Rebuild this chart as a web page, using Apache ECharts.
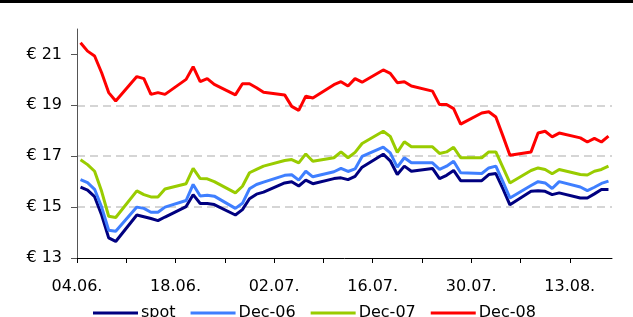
<!DOCTYPE html>
<html>
<head>
<meta charset="utf-8">
<title></title>
<script src="https://cdn.jsdelivr.net/npm/echarts@6/dist/echarts.min.js"></script>
<style>
  html, body { margin: 0; padding: 0; background: #fff; }
  #main { width: 633px; height: 317px; }
</style>
</head>
<body>
<div id="main"></div>
<script type="text/javascript">
    // trading days, 2006
    var dates = [
        '2006-06-04', '2006-06-05', '2006-06-06', '2006-06-07', '2006-06-08', '2006-06-09',
        '2006-06-12', '2006-06-13', '2006-06-14', '2006-06-15', '2006-06-16',
        '2006-06-19', '2006-06-20', '2006-06-21', '2006-06-22', '2006-06-23',
        '2006-06-26', '2006-06-27', '2006-06-28', '2006-06-29', '2006-06-30',
        '2006-07-03', '2006-07-04', '2006-07-05', '2006-07-06', '2006-07-07',
        '2006-07-10', '2006-07-11', '2006-07-12', '2006-07-13', '2006-07-14',
        '2006-07-17', '2006-07-18', '2006-07-19', '2006-07-20', '2006-07-21',
        '2006-07-24', '2006-07-25', '2006-07-26', '2006-07-27', '2006-07-28',
        '2006-07-31', '2006-08-01', '2006-08-02', '2006-08-03', '2006-08-04',
        '2006-08-07', '2006-08-08', '2006-08-09', '2006-08-10', '2006-08-11',
        '2006-08-14', '2006-08-15', '2006-08-16', '2006-08-17', '2006-08-18'
    ];
    var spot = [15.79, 15.67, 15.41, 14.69, 13.79, 13.65, 14.69, 14.62, 14.55, 14.47, 14.61,
        15.02, 15.49, 15.14, 15.14, 15.10, 14.69, 14.90, 15.33, 15.51, 15.59,
        15.95, 16.00, 15.83, 16.06, 15.92, 16.12, 16.15, 16.08, 16.21, 16.57,
        17.08, 16.82, 16.28, 16.61, 16.41, 16.52, 16.12, 16.25, 16.44, 16.04,
        16.04, 16.28, 16.32, 15.73, 15.09, 15.62, 15.64, 15.62, 15.49, 15.56,
        15.36, 15.36, 15.52, 15.69, 15.69];
    var dec06 = [16.08, 15.96, 15.70, 15.00, 14.09, 14.05, 15.00, 14.95, 14.80, 14.80, 15.00,
        15.26, 15.89, 15.44, 15.47, 15.43, 14.95, 15.15, 15.72, 15.89, 15.98,
        16.25, 16.27, 16.06, 16.41, 16.19, 16.39, 16.52, 16.40, 16.50, 16.99,
        17.36, 17.13, 16.57, 16.94, 16.74, 16.74, 16.48, 16.61, 16.80, 16.35,
        16.32, 16.54, 16.61, 16.00, 15.36, 15.85, 16.00, 15.95, 15.73, 16.00,
        15.79, 15.65, 15.78, 15.93, 16.02];
    var dec07 = [16.86, 16.67, 16.41, 15.62, 14.64, 14.59, 15.64, 15.49, 15.40, 15.40, 15.71,
        15.92, 16.52, 16.12, 16.11, 16.00, 15.56, 15.82, 16.35, 16.48, 16.61,
        16.83, 16.87, 16.74, 17.09, 16.80, 16.94, 17.17, 16.94, 17.15, 17.50,
        17.98, 17.78, 17.15, 17.57, 17.37, 17.37, 17.11, 17.17, 17.35, 16.94,
        16.94, 17.17, 17.17, 16.56, 15.95, 16.44, 16.54, 16.48, 16.31, 16.48,
        16.28, 16.26, 16.41, 16.48, 16.61];
    var dec08 = [21.46, 21.13, 20.94, 20.28, 19.50, 19.17, 20.13, 20.05, 19.43, 19.50, 19.43,
        20.02, 20.52, 19.93, 20.05, 19.82, 19.41, 19.85, 19.85, 19.69, 19.51,
        19.41, 18.96, 18.80, 19.36, 19.29, 19.81, 19.93, 19.76, 20.05, 19.91,
        20.39, 20.26, 19.89, 19.93, 19.76, 19.56, 19.03, 19.03, 18.87, 18.26,
        18.70, 18.75, 18.54, 17.80, 17.04, 17.17, 17.91, 17.98, 17.76, 17.91,
        17.72, 17.56, 17.70, 17.56, 17.79];
    var yTicks = [13, 15, 17, 19, 21];
    var startDay = '2006-06-04';

    var DAY = 86400000;
    var t0 = Date.parse(startDay);
    // a point sits in the middle of its day, like an Excel date axis
    function pairs(vals) {
        return vals.map(function (v, i) {
            return [(Date.parse(dates[i]) - t0) / DAY + 0.5, v];
        });
    }
    function dayLabel(v) {
        var d = new Date(t0 + v * DAY);
        var dd = ('0' + d.getUTCDate()).slice(-2);
        var mm = ('0' + (d.getUTCMonth() + 1)).slice(-2);
        return dd + '.' + mm + '.';
    }
    var weekTicks = [], labelTicks = [];
    for (var w = 0; w <= 70; w += 7) {
        weekTicks.push(w);
        if (w % 14 === 0) labelTicks.push(w);
    }

    var font = 'DejaVu Sans';
    var myChart = echarts.init(document.getElementById('main'));

    function line(name, color, vals) {
        return {
            name: name,
            type: 'line',
            data: pairs(vals),
            symbol: 'none',
            lineStyle: { color: color, width: 3 },
            itemStyle: { color: color },
            animation: false
        };
    }

    myChart.setOption({
        backgroundColor: '#fff',
        textStyle: { fontFamily: font },
        graphic: [{
            type: 'rect',
            shape: { x: 0, y: 0, width: 633, height: 3 },
            style: { fill: '#000' }
        }],
        grid: { left: 77, right: 21, top: 29, bottom: 59 },
        legend: {
            left: 88,
            top: 300,
            icon: 'rect',
            itemWidth: 45,
            itemHeight: 3,
            itemGap: 15,
            textStyle: { fontFamily: font, fontSize: 16, color: '#000', padding: [0, 0, 0, -2] },
            data: ['spot', 'Dec-06', 'Dec-07', 'Dec-08']
        },
        xAxis: {
            type: 'value',
            min: 0,
            max: 76,
            interval: 7,
            axisLine: { lineStyle: { color: '#000', width: 1 } },
            axisTick: { length: 5, customValues: weekTicks, lineStyle: { color: '#000' } },
            axisLabel: {
                customValues: labelTicks,
                margin: 21,
                fontFamily: font,
                fontSize: 16,
                color: '#000',
                formatter: dayLabel
            },
            splitLine: { show: false }
        },
        yAxis: {
            type: 'value',
            min: 13,
            max: 22,
            interval: 2,
            axisLine: { show: true, lineStyle: { color: '#555', width: 1 } },
            axisTick: { show: true, length: 6, customValues: yTicks, lineStyle: { color: '#555' } },
            axisLabel: {
                customValues: yTicks,
                margin: 15,
                fontFamily: font,
                fontSize: 16,
                color: '#000',
                formatter: function (v) { return '€ ' + v; }
            },
            splitLine: {
                show: true,
                showMinLine: false,
                showMaxLine: false,
                lineStyle: { color: '#c8c8c8', type: [8, 5], width: 1.5 }
            }
        },
        series: [
            line('spot', '#000080', spot),
            line('Dec-06', '#3f7fff', dec06),
            line('Dec-07', '#99cc00', dec07),
            line('Dec-08', '#ff0000', dec08)
        ]
    });
</script>
</body>
</html>
